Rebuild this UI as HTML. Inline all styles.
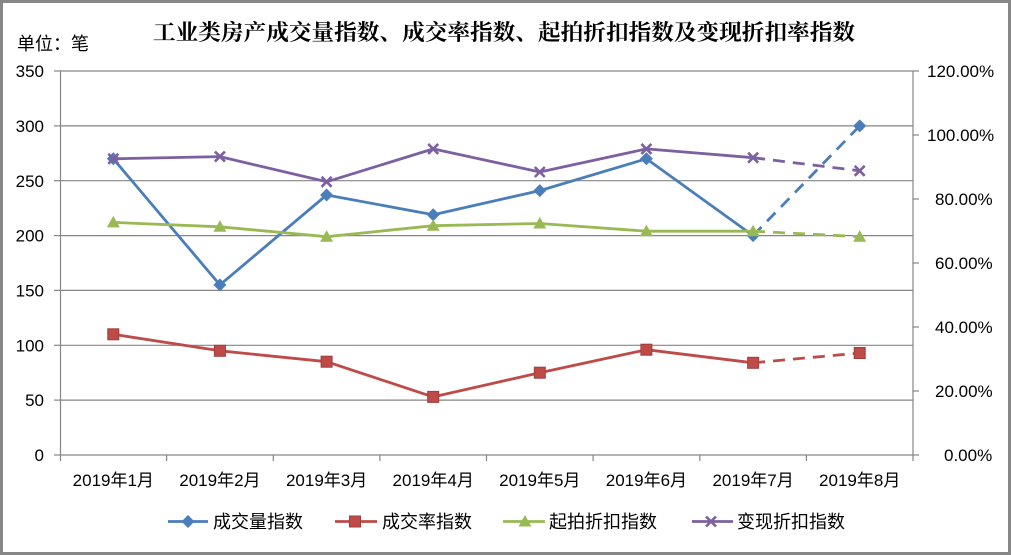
<!DOCTYPE html>
<html>
<head>
<meta charset="utf-8">
<style>
html,body{margin:0;padding:0;background:#fff;}
svg{display:block;}
</style>
</head>
<body>
<svg width="1011" height="555" viewBox="0 0 1011 555" xmlns="http://www.w3.org/2000/svg">
  <rect x="0" y="0" width="1011" height="555" fill="#fff"/>
  <rect x="1.5" y="1.5" width="1008" height="552" fill="none" stroke="#878787" stroke-width="3"/>

  <!-- title -->
  <text x="153" y="40" font-family="'Liberation Serif','Noto Serif CJK SC',serif" font-weight="700" font-size="22" fill="#000" textLength="702" lengthAdjust="spacingAndGlyphs">工业类房产成交量指数、成交率指数、起拍折扣指数及变现折扣率指数</text>
  <text x="17" y="50" font-family="'Liberation Sans','Noto Sans CJK SC',sans-serif" font-size="18" fill="#000">单位：笔</text>

  <!-- gridlines -->
  <g stroke="#868686" stroke-width="1.2">
    <line x1="60" y1="71" x2="913" y2="71"/>
    <line x1="60" y1="125.9" x2="913" y2="125.9"/>
    <line x1="60" y1="180.7" x2="913" y2="180.7"/>
    <line x1="60" y1="235.6" x2="913" y2="235.6"/>
    <line x1="60" y1="290.4" x2="913" y2="290.4"/>
    <line x1="60" y1="345.3" x2="913" y2="345.3"/>
    <line x1="60" y1="400.1" x2="913" y2="400.1"/>
    <line x1="60" y1="455" x2="913" y2="455"/>
    <!-- axes -->
    <line x1="60.5" y1="71" x2="60.5" y2="455"/>
    <line x1="913" y1="71" x2="913" y2="455"/>
    <!-- left ticks -->
    <line x1="54" y1="71" x2="60" y2="71"/>
    <line x1="54" y1="125.9" x2="60" y2="125.9"/>
    <line x1="54" y1="180.7" x2="60" y2="180.7"/>
    <line x1="54" y1="235.6" x2="60" y2="235.6"/>
    <line x1="54" y1="290.4" x2="60" y2="290.4"/>
    <line x1="54" y1="345.3" x2="60" y2="345.3"/>
    <line x1="54" y1="400.1" x2="60" y2="400.1"/>
    <line x1="54" y1="455" x2="60" y2="455"/>
    <!-- right ticks -->
    <line x1="913" y1="71" x2="919" y2="71"/>
    <line x1="913" y1="135" x2="919" y2="135"/>
    <line x1="913" y1="199" x2="919" y2="199"/>
    <line x1="913" y1="263" x2="919" y2="263"/>
    <line x1="913" y1="327" x2="919" y2="327"/>
    <line x1="913" y1="391" x2="919" y2="391"/>
    <line x1="913" y1="455" x2="919" y2="455"/>
    <!-- x ticks -->
    <line x1="60.5" y1="455" x2="60.5" y2="461"/>
    <line x1="166.6" y1="455" x2="166.6" y2="461"/>
    <line x1="273.3" y1="455" x2="273.3" y2="461"/>
    <line x1="379.9" y1="455" x2="379.9" y2="461"/>
    <line x1="486.5" y1="455" x2="486.5" y2="461"/>
    <line x1="593.1" y1="455" x2="593.1" y2="461"/>
    <line x1="699.8" y1="455" x2="699.8" y2="461"/>
    <line x1="806.4" y1="455" x2="806.4" y2="461"/>
    <line x1="913" y1="455" x2="913" y2="461"/>
  </g>

  <!-- left axis labels -->
  <g font-family="'Liberation Sans',sans-serif" font-size="17" fill="#000" text-anchor="end">
    <text x="44" y="77">350</text>
    <text x="44" y="132">300</text>
    <text x="44" y="187">250</text>
    <text x="44" y="241.5">200</text>
    <text x="44" y="296.5">150</text>
    <text x="44" y="351.5">100</text>
    <text x="44" y="406">50</text>
    <text x="44" y="461">0</text>
  </g>
  <!-- right axis labels -->
  <g font-family="'Liberation Sans',sans-serif" font-size="17" fill="#000">
    <text x="927" y="77">120.00%</text>
    <text x="927" y="141">100.00%</text>
    <text x="935" y="205">80.00%</text>
    <text x="935" y="269">60.00%</text>
    <text x="935" y="333">40.00%</text>
    <text x="935" y="397">20.00%</text>
    <text x="944" y="461">0.00%</text>
  </g>
  <!-- x labels -->
  <g font-family="'Liberation Sans','Noto Sans CJK SC',sans-serif" font-size="17" fill="#000" text-anchor="middle">
    <text x="113.3" y="486">2019年1月</text>
    <text x="219.9" y="486">2019年2月</text>
    <text x="326.6" y="486">2019年3月</text>
    <text x="433.2" y="486">2019年4月</text>
    <text x="539.8" y="486">2019年5月</text>
    <text x="646.4" y="486">2019年6月</text>
    <text x="753.1" y="486">2019年7月</text>
    <text x="859.7" y="486">2019年8月</text>
  </g>

  <defs>
    <g id="dia"><polygon points="0,-6.5 6.5,0 0,6.5 -6.5,0" fill="#4A7EBB"/></g>
    <g id="sq"><rect x="-5.5" y="-5.5" width="11" height="11" fill="#BE4B48" stroke="#A33D3A" stroke-width="1"/></g>
    <g id="tri"><polygon points="0,-6.5 6.5,5 -6.5,5" fill="#98B954"/></g>
    <g id="xx"><path d="M-5,-5 L5,5 M-5,5 L5,-5" stroke="#7D60A0" stroke-width="2.6"/></g>
  </defs>

  <!-- blue series -->
  <g fill="none" stroke="#4A7EBB" stroke-width="2.8" stroke-linejoin="round">
    <polyline points="113.3,158.8 219.9,284.9 326.6,195.0 433.2,214.7 539.8,190.6 646.4,158.8 753.1,235.6"/>
    <line x1="753.1" y1="235.6" x2="859.7" y2="125.9" stroke-dasharray="12 8"/>
  </g>
  <g>
    <use href="#dia" x="113.3" y="158.8"/><use href="#dia" x="219.9" y="284.9"/><use href="#dia" x="326.6" y="195.0"/><use href="#dia" x="433.2" y="214.7"/><use href="#dia" x="539.8" y="190.6"/><use href="#dia" x="646.4" y="158.8"/><use href="#dia" x="753.1" y="235.6"/><use href="#dia" x="859.7" y="125.9"/>
  </g>

  <!-- red series -->
  <g fill="none" stroke="#BE4B48" stroke-width="2.8" stroke-linejoin="round">
    <polyline points="113.3,334.3 219.9,350.8 326.6,361.7 433.2,396.9 539.8,372.7 646.4,349.7 753.1,362.8"/>
    <line x1="753.1" y1="362.8" x2="859.7" y2="353.0" stroke-dasharray="12 8"/>
  </g>
  <g>
    <use href="#sq" x="113.3" y="334.3"/><use href="#sq" x="219.9" y="350.8"/><use href="#sq" x="326.6" y="361.7"/><use href="#sq" x="433.2" y="396.9"/><use href="#sq" x="539.8" y="372.7"/><use href="#sq" x="646.4" y="349.7"/><use href="#sq" x="753.1" y="362.8"/><use href="#sq" x="859.7" y="353.0"/>
  </g>

  <!-- green series -->
  <g fill="none" stroke="#98B954" stroke-width="2.8" stroke-linejoin="round">
    <polyline points="113.3,222.4 219.9,226.8 326.6,236.7 433.2,225.7 539.8,223.5 646.4,231.2 753.1,231.2"/>
    <line x1="753.1" y1="231.2" x2="859.7" y2="236.7" stroke-dasharray="12 8"/>
  </g>
  <g>
    <use href="#tri" x="113.3" y="222.4"/><use href="#tri" x="219.9" y="226.8"/><use href="#tri" x="326.6" y="236.7"/><use href="#tri" x="433.2" y="225.7"/><use href="#tri" x="539.8" y="223.5"/><use href="#tri" x="646.4" y="231.2"/><use href="#tri" x="753.1" y="231.2"/><use href="#tri" x="859.7" y="236.7"/>
  </g>

  <!-- purple series -->
  <g fill="none" stroke="#7D60A0" stroke-width="2.8" stroke-linejoin="round">
    <polyline points="113.3,158.8 219.9,156.6 326.6,181.8 433.2,148.9 539.8,172.0 646.4,148.9 753.1,157.7"/>
    <line x1="753.1" y1="157.7" x2="859.7" y2="170.8" stroke-dasharray="12 8"/>
  </g>
  <g>
    <use href="#xx" x="113.3" y="158.8"/><use href="#xx" x="219.9" y="156.6"/><use href="#xx" x="326.6" y="181.8"/><use href="#xx" x="433.2" y="148.9"/><use href="#xx" x="539.8" y="172.0"/><use href="#xx" x="646.4" y="148.9"/><use href="#xx" x="753.1" y="157.7"/><use href="#xx" x="859.7" y="170.8"/>
  </g>

  <!-- legend -->
  <g stroke-width="2.8">
    <line x1="168" y1="521.5" x2="208" y2="521.5" stroke="#4A7EBB"/>
    <line x1="335" y1="521.5" x2="377" y2="521.5" stroke="#BE4B48"/>
    <line x1="503" y1="521.5" x2="545" y2="521.5" stroke="#98B954"/>
    <line x1="692" y1="521.5" x2="733" y2="521.5" stroke="#7D60A0"/>
  </g>
  <use href="#dia" x="188" y="521.5"/>
  <use href="#sq" x="355" y="521.5"/>
  <use href="#tri" x="525" y="521.5"/>
  <use href="#xx" x="711" y="521.5"/>
  <g font-family="'Liberation Sans','Noto Sans CJK SC',sans-serif" font-size="18" fill="#000">
    <text x="213" y="528">成交量指数</text>
    <text x="382" y="528">成交率指数</text>
    <text x="549" y="528">起拍折扣指数</text>
    <text x="737" y="528">变现折扣指数</text>
  </g>
</svg>
</body>
</html>
